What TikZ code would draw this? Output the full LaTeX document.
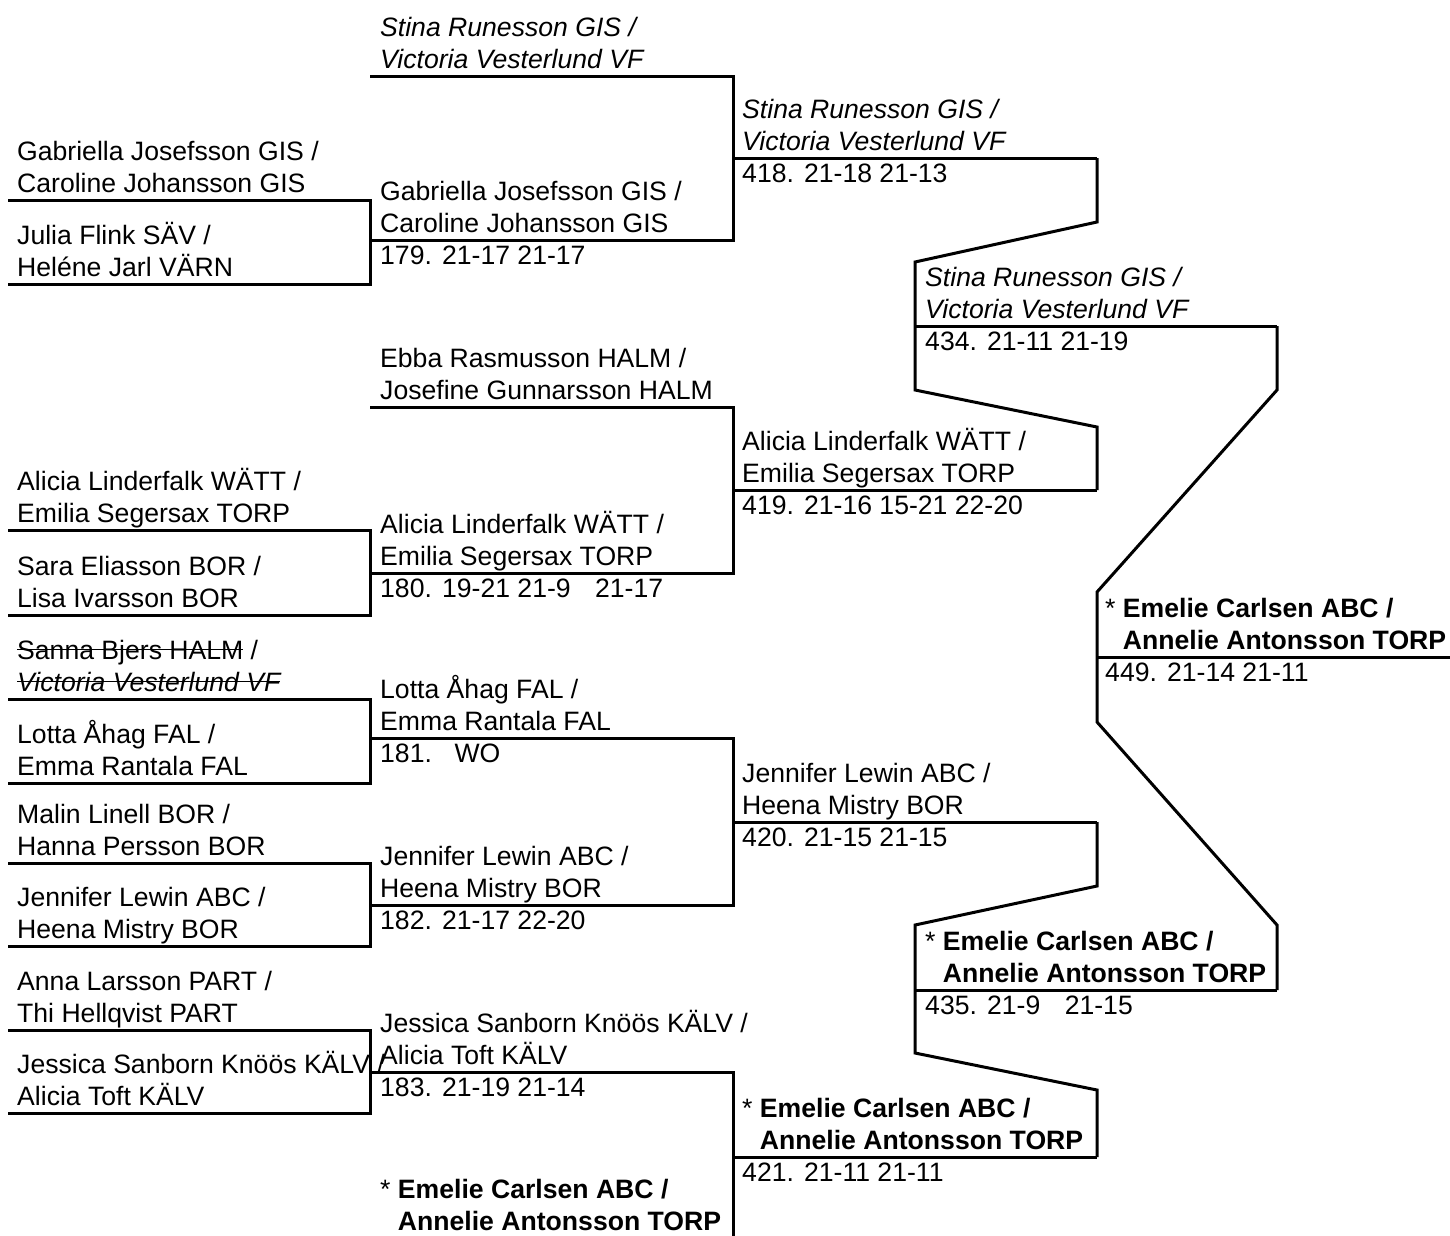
\documentclass[tikz,border=0pt]{standalone}
\usepackage{fontspec}
\setmainfont{Liberation Sans}
\usepackage{tikz}
\usetikzlibrary{positioning,calc}

\newlength\strikelen
\newcommand\strike[1]{\settowidth{\strikelen}{#1}\rlap{\rule[0.33em]{\strikelen}{1.6pt}}#1}

\begin{document}
\begin{tikzpicture}[x=1pt,y=-1pt,
                    bracket/.style={line width=3pt},
                    team/.style={anchor=base west,align=left,inner sep=0pt},
                    res/.style={anchor=base west,inner sep=0pt},
                    every node/.style={font=\fontsize{26.6}{32}\selectfont}]
  \useasboundingbox (0,0) rectangle (1450,1235);

  % columns
  \coordinate (c0) at (8,0);
  \coordinate (c1) at (370,0);
  \coordinate (c2) at (733,0);
  \coordinate (c3) at (1097,0);
  \coordinate (c4) at (915,0);
  \coordinate (c5) at (1277,0);
  \coordinate (c6) at (1450,0);

  % first round
  \coordinate (gab) at (8,200);  \coordinate (jul) at (8,284);
  \coordinate (ali) at (8,530);  \coordinate (sar) at (8,615);
  \coordinate (san) at (8,699);  \coordinate (lot) at (8,783);
  \coordinate (mal) at (8,863);  \coordinate (jen) at (8,946);
  \coordinate (ann) at (8,1030); \coordinate (jes) at (8,1113);

  \node[team] (gab-t) at (17,192) {Gabriella Josefsson GIS /\\Caroline Johansson GIS};
  \node[team] (jul-t) at (17,276) {Julia Flink SÄV /\\Heléne Jarl VÄRN};
  \node[team] (ali-t) at (17,522) {Alicia Linderfalk WÄTT /\\Emilia Segersax TORP};
  \node[team] (sar-t) at (17,607) {Sara Eliasson BOR /\\Lisa Ivarsson BOR};
  \node[team] (san-t) at (17,691) {\strike{Sanna Bjers HALM} /\\\itshape\strike{Victoria Vesterlund VF}};
  \node[team] (lot-t) at (17,775) {Lotta Åhag FAL /\\Emma Rantala FAL};
  \node[team] (mal-t) at (17,855) {Malin Linell BOR /\\Hanna Persson BOR};
  \node[team] (jen-t) at (17,938) {Jennifer Lewin ABC /\\Heena Mistry BOR};
  \node[team] (ann-t) at (17,1022) {Anna Larsson PART /\\Thi Hellqvist PART};
  \node[team] (jes-t) at (17,1105) {Jessica Sanborn Knöös KÄLV /\\Alicia Toft KÄLV};

  \draw[bracket] (gab) -- (gab -| c1) -- (jul -| c1) -- (jul);
  \draw[bracket] (ali) -- (ali -| c1) -- (sar -| c1) -- (sar);
  \draw[bracket] (san) -- (san -| c1) -- (lot -| c1) -- (lot);
  \draw[bracket] (mal) -- (mal -| c1) -- (jen -| c1) -- (jen);
  \draw[bracket] (ann) -- (ann -| c1) -- (jes -| c1) -- (jes);

  % second round
  \coordinate (sti) at (370,76);   \coordinate (m179) at (370,240);
  \coordinate (ebb) at (370,407);  \coordinate (m180) at (370,573);
  \coordinate (m181) at (370,738); \coordinate (m182) at (370,905);
  \coordinate (m183) at (370,1072);\coordinate (eme) at (370,1238);

  \node[team] (sti-t) at (380,68) {\itshape Stina Runesson GIS /\\\itshape Victoria Vesterlund VF};
  \node[team] (m179-t) at (380,232) {Gabriella Josefsson GIS /\\Caroline Johansson GIS};
  \node[res] (m179-r) at (380,264) {179.\hspace{0.38em}21-17 21-17};
  \node[team] (ebb-t) at (380,399) {Ebba Rasmusson HALM /\\Josefine Gunnarsson HALM};
  \node[team] (m180-t) at (380,565) {Alicia Linderfalk WÄTT /\\Emilia Segersax TORP};
  \node[res] (m180-r) at (380,597) {180.\hspace{0.38em}19-21 21-9\hspace{0.92em}21-17};
  \node[team] (m181-t) at (380,730) {Lotta Åhag FAL /\\Emma Rantala FAL};
  \node[res] (m181-r) at (380,762) {181.\hspace{0.85em}WO};
  \node[team] (m182-t) at (380,897) {Jennifer Lewin ABC /\\Heena Mistry BOR};
  \node[res] (m182-r) at (380,929) {182.\hspace{0.38em}21-17 22-20};
  \node[team] (m183-t) at (380,1064) {Jessica Sanborn Knöös KÄLV /\\Alicia Toft KÄLV};
  \node[res] (m183-r) at (380,1096) {183.\hspace{0.38em}21-19 21-14};
  \node[team] (eme-t) at (380,1230) {* \textbf{Emelie Carlsen ABC /}\\\phantom{* }\textbf{Annelie Antonsson TORP}};

  \draw[bracket] (sti) -- (sti -| c2) -- (m179 -| c2) -- (m179);
  \draw[bracket] (ebb) -- (ebb -| c2) -- (m180 -| c2) -- (m180);
  \draw[bracket] (m181) -- (m181 -| c2) -- (m182 -| c2) -- (m182);
  \draw[bracket] (m183) -- (m183 -| c2) -- (eme -| c2) -- (eme);

  % third round
  \coordinate (m418) at (733,158);  \coordinate (m419) at (733,490);
  \coordinate (m420) at (733,822);  \coordinate (m421) at (733,1157);

  \node[team] (m418-t) at (742,150) {\itshape Stina Runesson GIS /\\\itshape Victoria Vesterlund VF};
  \node[res] (m418-r) at (742,182) {418.\hspace{0.38em}21-18 21-13};
  \node[team] (m419-t) at (742,482) {Alicia Linderfalk WÄTT /\\Emilia Segersax TORP};
  \node[res] (m419-r) at (742,514) {419.\hspace{0.38em}21-16 15-21 22-20};
  \node[team] (m420-t) at (742,814) {Jennifer Lewin ABC /\\Heena Mistry BOR};
  \node[res] (m420-r) at (742,846) {420.\hspace{0.38em}21-15 21-15};
  \node[team] (m421-t) at (742,1149) {* \textbf{Emelie Carlsen ABC /}\\\phantom{* }\textbf{Annelie Antonsson TORP}};
  \node[res] (m421-r) at (742,1181) {421.\hspace{0.38em}21-11 21-11};

  \draw[bracket] (m418) -- (m418 -| c3);
  \draw[bracket] (m419) -- (m419 -| c3);
  \draw[bracket] (m420) -- (m420 -| c3);
  \draw[bracket] (m421) -- (m421 -| c3);

  % semi finals
  \coordinate (m434) at (915,326);  \coordinate (m435) at (915,990);

  \node[team] (m434-t) at (925,318) {\itshape Stina Runesson GIS /\\\itshape Victoria Vesterlund VF};
  \node[res] (m434-r) at (925,350) {434.\hspace{0.38em}21-11 21-19};
  \node[team] (m435-t) at (925,982) {* \textbf{Emelie Carlsen ABC /}\\\phantom{* }\textbf{Annelie Antonsson TORP}};
  \node[res] (m435-r) at (925,1014) {435.\hspace{0.38em}21-9\hspace{0.92em}21-15};

  \draw[bracket] (m418 -| c3) -- ++(0,64) -- ($(m434)+(0,-64)$) -- ($(m434)+(0,64)$)
                 -- ($(m419 -| c3)+(0,-63)$) -- (m419 -| c3);
  \draw[bracket] (m420 -| c3) -- ++(0,64) -- ($(m435)+(0,-65)$) -- ($(m435)+(0,63)$)
                 -- ($(m421 -| c3)+(0,-67)$) -- (m421 -| c3);
  \draw[bracket] (m434) -- (m434 -| c5);
  \draw[bracket] (m435) -- (m435 -| c5);

  % final
  \coordinate (m449) at (1097,657);

  \node[team] (m449-t) at (1105,649) {* \textbf{Emelie Carlsen ABC /}\\\phantom{* }\textbf{Annelie Antonsson TORP}};
  \node[res] (m449-r) at (1105,681) {449.\hspace{0.38em}21-14 21-11};

  \draw[bracket] (m434 -| c5) -- ++(0,64) -- ($(m449)+(0,-65)$) -- ($(m449)+(0,65)$)
                 -- ($(m435 -| c5)+(0,-65)$) -- (m435 -| c5);
  \draw[bracket] (m449) -- (m449 -| c6);
\end{tikzpicture}
\end{document}
